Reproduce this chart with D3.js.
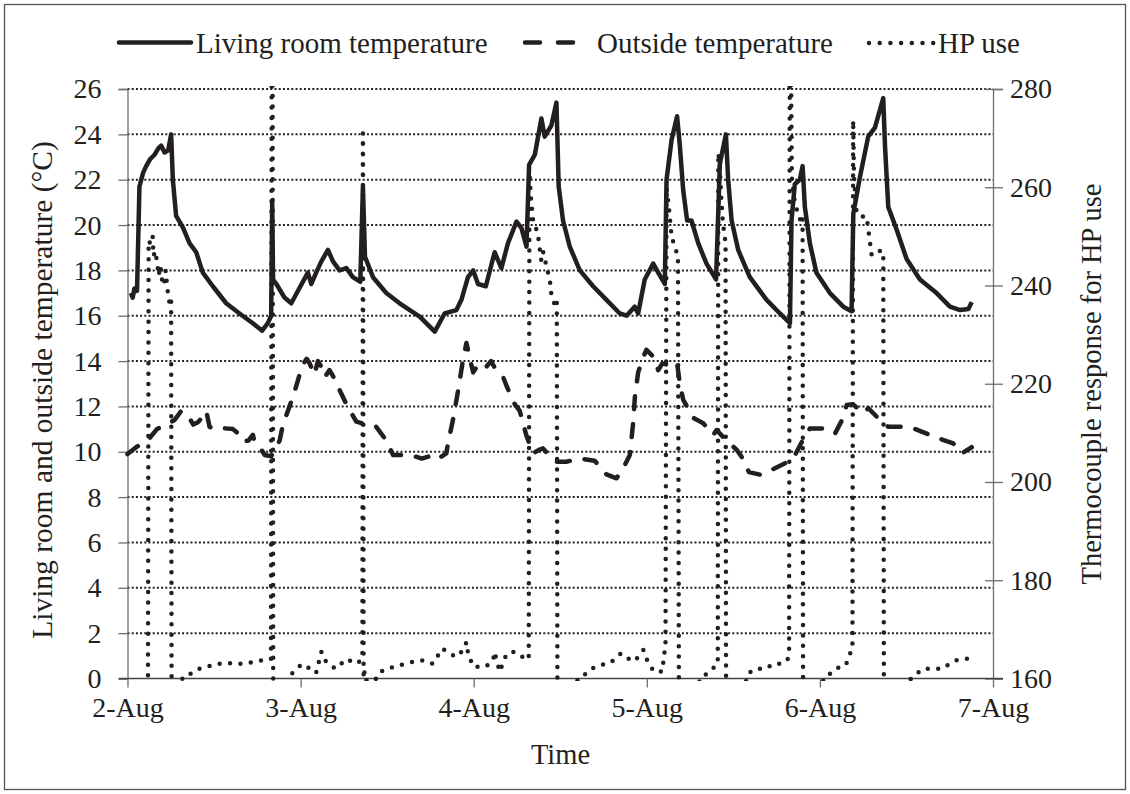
<!DOCTYPE html>
<html>
<head>
<meta charset="utf-8">
<style>
  body { margin: 0; background: #fff; }
  text { font-family: "Liberation Serif", "Times New Roman", serif; fill: #231f20; }
</style>
</head>
<body>
<svg id="chart" width="1130" height="794"></svg>

<script src="https://d3js.org/d3.v7.min.js"></script>
<script>
    // time is in days after 2-Aug 00:00
    const dayTicks = [0, 1, 2, 3, 4, 5];
    const dayLabels = ['2-Aug', '3-Aug', '4-Aug', '5-Aug', '6-Aug', '7-Aug'];
    const tempTicks = [0, 2, 4, 6, 8, 10, 12, 14, 16, 18, 20, 22, 24, 26];
    const hpTicks = [160, 180, 200, 220, 240, 260, 280];

    // living room temperature (°C)
    const livingRoom = [
        [0.02,17.0],[0.03,16.8],[0.04,17.2],[0.055,17.1],[0.069,21.7],[0.09,22.3],[0.108,22.6],[0.13,22.9],
        [0.156,23.1],[0.18,23.4],[0.195,23.5],[0.214,23.2],[0.235,23.3],[0.252,24.0],[0.262,22.0],[0.281,20.4],
        [0.32,19.9],[0.358,19.2],[0.397,18.8],[0.435,17.9],[0.493,17.3],[0.57,16.55],[0.647,16.1],[0.724,15.67],
        [0.778,15.34],[0.811,15.67],[0.83,16.0],[0.836,21.0],[0.841,17.6],[0.86,17.4],[0.907,16.8],[0.946,16.55],
        [0.985,17.1],[1.042,17.9],[1.062,17.4],[1.09,17.9],[1.12,18.4],[1.158,18.9],[1.187,18.4],[1.225,18.0],
        [1.264,18.1],[1.302,17.7],[1.345,17.5],[1.36,21.7],[1.372,18.6],[1.418,17.7],[1.495,17.0],[1.572,16.55],
        [1.688,15.96],[1.775,15.3],[1.832,16.1],[1.9,16.25],[1.929,16.7],[1.967,17.7],[1.997,18.0],[2.025,17.4],
        [2.07,17.3],[2.121,18.8],[2.16,18.1],[2.198,19.2],[2.247,20.15],[2.276,19.86],[2.305,19.05],[2.32,22.65],
        [2.353,23.1],[2.391,24.7],[2.41,23.9],[2.449,24.4],[2.478,25.4],[2.491,21.7],[2.516,20.2],[2.555,19.05],
        [2.613,18.0],[2.69,17.3],[2.767,16.7],[2.844,16.1],[2.883,16.0],[2.93,16.4],[2.95,16.1],[2.988,17.6],
        [3.037,18.3],[3.066,17.9],[3.104,17.4],[3.114,22.0],[3.143,23.75],[3.175,24.8],[3.191,23.5],[3.21,21.55],
        [3.233,20.2],[3.258,20.2],[3.297,19.2],[3.345,18.3],[3.4,17.6],[3.422,22.7],[3.457,24.0],[3.47,22.0],
        [3.49,20.2],[3.528,18.9],[3.595,17.7],[3.692,16.7],[3.769,16.1],[3.827,15.67],[3.836,20.2],[3.855,21.8],
        [3.884,22.0],[3.9,22.6],[3.913,20.8],[3.942,19.2],[3.98,17.9],[4.058,17.0],[4.135,16.4],[4.183,16.2],
        [4.193,20.5],[4.231,22.1],[4.279,23.9],[4.318,24.3],[4.366,25.6],[4.376,23.5],[4.395,20.8],[4.443,19.8],
        [4.501,18.5],[4.578,17.6],[4.674,17.0],[4.751,16.4],[4.81,16.25],[4.858,16.3],[4.877,16.6]
    ];

    // outside temperature (°C)
    const outside = [
        [0.0,9.9],[0.05,10.2],[0.09,10.4],[0.127,10.6],[0.17,11.0],[0.224,11.2],[0.272,11.4],[0.31,11.8],
        [0.349,11.6],[0.38,11.2],[0.407,11.3],[0.44,11.6],[0.455,11.8],[0.474,11.1],[0.51,11.0],[0.551,11.04],
        [0.609,11.0],[0.64,10.8],[0.667,10.45],[0.7,10.5],[0.724,10.75],[0.734,10.45],[0.765,10.2],[0.792,9.86],
        [0.83,9.8],[0.86,10.2],[0.879,10.5],[0.898,11.2],[0.936,12.0],[0.965,12.65],[0.994,13.4],[1.013,13.85],
        [1.035,14.1],[1.052,13.9],[1.08,13.4],[1.1,14.0],[1.12,13.75],[1.14,13.3],[1.167,13.6],[1.19,13.3],
        [1.225,12.73],[1.264,12.1],[1.322,11.33],[1.38,11.2],[1.437,11.1],[1.495,10.5],[1.534,9.86],[1.6,9.86],
        [1.659,9.8],[1.7,9.7],[1.745,9.8],[1.784,9.64],[1.842,9.93],[1.852,10.4],[1.88,11.4],[1.91,12.7],
        [1.935,13.9],[1.958,14.8],[1.975,14.2],[1.997,13.5],[2.03,13.9],[2.073,13.75],[2.1,14.0],[2.13,13.6],
        [2.17,13.3],[2.19,12.9],[2.237,12.1],[2.266,11.8],[2.305,10.7],[2.343,9.93],[2.382,10.1],[2.4,10.15],
        [2.44,9.8],[2.478,9.56],[2.535,9.56],[2.613,9.7],[2.699,9.6],[2.767,9.0],[2.825,8.83],[2.863,9.27],
        [2.902,9.86],[2.921,11.26],[2.931,12.4],[2.95,13.5],[2.975,14.1],[2.998,14.5],[3.037,14.2],[3.066,13.6],
        [3.09,13.9],[3.114,13.85],[3.152,14.0],[3.175,13.9],[3.191,13.0],[3.21,12.3],[3.268,11.5],[3.326,11.26],
        [3.384,10.74],[3.403,10.96],[3.46,10.5],[3.52,10.08],[3.56,9.64],[3.59,9.1],[3.66,8.98],[3.72,9.2],
        [3.8,9.5],[3.846,9.7],[3.9,10.5],[3.942,11.03],[4.029,11.03],[4.087,10.8],[4.135,11.5],[4.155,12.06],
        [4.19,12.1],[4.25,11.7],[4.28,11.92],[4.347,11.4],[4.395,11.1],[4.482,11.1],[4.54,11.03],[4.617,10.8],
        [4.684,10.6],[4.77,10.37],[4.819,9.93],[4.877,10.2]
    ];

    // thermocouple response for HP use (runs off the 160..280 range and is clipped)
    const hpUse = [
        [0,150],[0.118,150],[0.122,249],[0.127,248.6],[0.145,250.3],[0.15,246],[0.16,247],[0.17,245],
        [0.18,242],[0.19,244],[0.2,241],[0.21,240],[0.22,243],[0.235,238],[0.245,236],[0.252,237],[0.255,150],
        [0.27,150],[0.3,159],[0.33,160.7],[0.37,161],[0.4,161.8],[0.46,162.4],[0.53,163],[0.6,163.1],
        [0.66,163],[0.7,163.2],[0.78,163.7],[0.8,164],[0.829,164],[0.833,290],[0.838,290],[0.842,150],
        [0.9,150],[0.94,158],[0.95,161],[1.0,162.7],[1.04,162.6],[1.052,161.6],[1.09,161.2],[1.12,165.4],
        [1.13,164],[1.158,163.2],[1.2,162],[1.25,163.5],[1.27,164],[1.31,163],[1.345,163.5],[1.357,164],
        [1.36,271],[1.364,160],[1.37,161.5],[1.39,158],[1.42,159],[1.457,161.3],[1.505,162],[1.572,162.7],
        [1.65,163.4],[1.705,163.7],[1.763,163],[1.82,166.1],[1.86,165.1],[1.9,164.4],[1.94,165.8],[1.958,167.4],
        [1.968,165],[1.997,162.4],[2.07,162.4],[2.112,163.7],[2.12,165.4],[2.15,161.4],[2.19,165],[2.228,165.4],
        [2.266,165],[2.295,163.9],[2.318,164],[2.322,263],[2.33,258],[2.343,253.3],[2.37,250.6],[2.39,245.2],
        [2.4,247],[2.42,244],[2.44,241.1],[2.45,237.7],[2.47,236],[2.48,237],[2.484,150],
        [2.58,150],[2.6,160],[2.65,161],[2.68,162],[2.73,162.7],[2.79,163.2],[2.85,165.1],[2.87,164.4],
        [2.93,163.5],[2.98,165.8],[2.99,164.5],[3.02,162.7],[3.04,161.4],[3.09,161.4],[3.1,165],[3.108,166],
        [3.114,260],[3.13,255],[3.143,250],[3.16,248],[3.18,246],[3.186,150],
        [3.29,150],[3.305,160],[3.35,161],[3.38,162],[3.41,163],[3.413,267],[3.42,265],[3.43,258],
        [3.44,252.6],[3.45,250],[3.455,248.6],[3.458,150],
        [3.55,150],[3.575,160],[3.6,161.4],[3.63,162],[3.69,162],[3.73,163],[3.785,163],[3.815,164],
        [3.822,165],[3.826,290],[3.832,290],[3.838,262],[3.85,258],[3.87,255],[3.89,253],[3.9,254],[3.903,150],
        [4.0,150],[4.02,160],[4.06,161],[4.09,162],[4.15,162.7],[4.17,164.8],[4.188,166],[4.192,273.7],
        [4.197,262],[4.212,254.7],[4.25,254],[4.27,254],[4.285,250],[4.299,246.2],[4.328,247],[4.366,247],[4.37,150],
        [4.5,150],[4.525,160],[4.56,161],[4.6,162],[4.65,162],[4.71,162],[4.75,163],[4.79,163.7],[4.85,164],[4.86,164.3]
    ];

    const INK = '#231f20';
    const AXIS = '#6d6e71';
    let svg = d3.select('#chart');

    let x = d3.scaleLinear().domain([0, 5]).range([127.5, 993]);
    let yL = d3.scaleLinear().domain([0, 26]).range([678.5, 89]);
    let yR = d3.scaleLinear().domain([160, 280]).range([678.5, 89]);

    // outer frame
    svg.append('rect')
        .attr('x', 4.5).attr('y', 4.5)
        .attr('width', 1121).attr('height', 785)
        .attr('fill', 'none')
        .attr('stroke', '#555')
        .attr('stroke-width', 1.3);

    // dotted horizontal gridlines
    svg.append('g').selectAll('line')
        .data(tempTicks.filter(d => d > 0))
        .join('line')
        .attr('x1', 127.5).attr('x2', 993)
        .attr('y1', d => yL(d)).attr('y2', d => yL(d))
        .attr('stroke', INK)
        .attr('stroke-width', 2)
        .attr('stroke-dasharray', '2 2.2');

    // axes
    let leftAxis = svg.append('g')
        .attr('transform', 'translate(127.5,0)')
        .call(d3.axisLeft(yL).tickValues(tempTicks).tickSize(9).tickPadding(17));
    let rightAxis = svg.append('g')
        .attr('transform', 'translate(993,0)')
        .call(d3.axisRight(yR).tickValues(hpTicks).tickSize(10).tickPadding(7));
    rightAxis.selectAll('.tick line').attr('x1', -8);
    let bottomAxis = svg.append('g')
        .attr('transform', 'translate(0,678.5)')
        .call(d3.axisBottom(x).tickValues(dayTicks).tickFormat((d, i) => dayLabels[i]).tickSize(9));
    bottomAxis.selectAll('.tick text').attr('y', 38).attr('dy', 0);

    [leftAxis, rightAxis, bottomAxis].forEach(function(g) {
        g.select('.domain').attr('stroke', AXIS).attr('stroke-width', 1.3);
        g.selectAll('.tick line').attr('stroke', AXIS).attr('stroke-width', 1.3);
        g.selectAll('.tick text')
            .style('font-family', '"Liberation Serif", serif')
            .style('font-size', '28px')
            .attr('fill', INK);
    });
    // bottom axis line reaches across both outer tick marks
    bottomAxis.select('.domain').attr('d', 'M119,0H1003').attr('stroke', '#444');

    // series
    svg.append('clipPath').attr('id', 'plotClip')
        .append('rect').attr('x', 120).attr('y', 86).attr('width', 880).attr('height', 595);

    let plot = svg.append('g').attr('clip-path', 'url(#plotClip)');

    let lineL = d3.line().x(d => x(d[0])).y(d => yL(d[1]));
    let lineR = d3.line().x(d => x(d[0])).y(d => yR(d[1]));

    plot.append('path')
        .datum(hpUse)
        .attr('d', lineR)
        .attr('fill', 'none')
        .attr('stroke', INK)
        .attr('stroke-width', 4.5)
        .attr('stroke-linecap', 'round')
        .attr('stroke-dasharray', '0 10.4');

    plot.append('path')
        .datum(outside)
        .attr('d', lineL)
        .attr('fill', 'none')
        .attr('stroke', INK)
        .attr('stroke-width', 4.5)
        .attr('stroke-linecap', 'round')
        .attr('stroke-linejoin', 'round')
        .attr('stroke-dasharray', '13 15');

    plot.append('path')
        .datum(livingRoom)
        .attr('d', lineL)
        .attr('fill', 'none')
        .attr('stroke', INK)
        .attr('stroke-width', 4.5)
        .attr('stroke-linejoin', 'round');

    // axis titles
    svg.append('text')
        .attr('transform', 'translate(52,390) rotate(-90)')
        .attr('text-anchor', 'middle')
        .style('font-size', '29.5px')
        .text('Living room and outside temperature  (°C)');
    svg.append('text')
        .attr('transform', 'translate(1101,384) rotate(-90)')
        .attr('text-anchor', 'middle')
        .style('font-size', '28.5px')
        .text('Thermocouple  response for HP use');
    svg.append('text')
        .attr('x', 560.5).attr('y', 764)
        .attr('text-anchor', 'middle')
        .style('font-size', '28.5px')
        .text('Time');

    // legend
    let legend = svg.append('g');
    legend.append('line')
        .attr('x1', 119).attr('x2', 191).attr('y1', 42.5).attr('y2', 42.5)
        .attr('stroke', INK).attr('stroke-width', 4.5).attr('stroke-linecap', 'round');
    legend.append('text').attr('x', 196).attr('y', 53)
        .style('font-size', '29px').text('Living room temperature');
    legend.append('line')
        .attr('x1', 525).attr('x2', 573).attr('y1', 42.5).attr('y2', 42.5)
        .attr('stroke', INK).attr('stroke-width', 4.5).attr('stroke-linecap', 'round')
        .attr('stroke-dasharray', '15 18');
    legend.append('text').attr('x', 597).attr('y', 53)
        .style('font-size', '29px').text('Outside temperature');
    legend.append('line')
        .attr('x1', 869).attr('x2', 934).attr('y1', 43).attr('y2', 43)
        .attr('stroke', INK).attr('stroke-width', 4.5).attr('stroke-linecap', 'round')
        .attr('stroke-dasharray', '0 10.7');
    legend.append('text').attr('x', 938).attr('y', 53)
        .style('font-size', '29px').text('HP use');
</script>
</body>
</html>
